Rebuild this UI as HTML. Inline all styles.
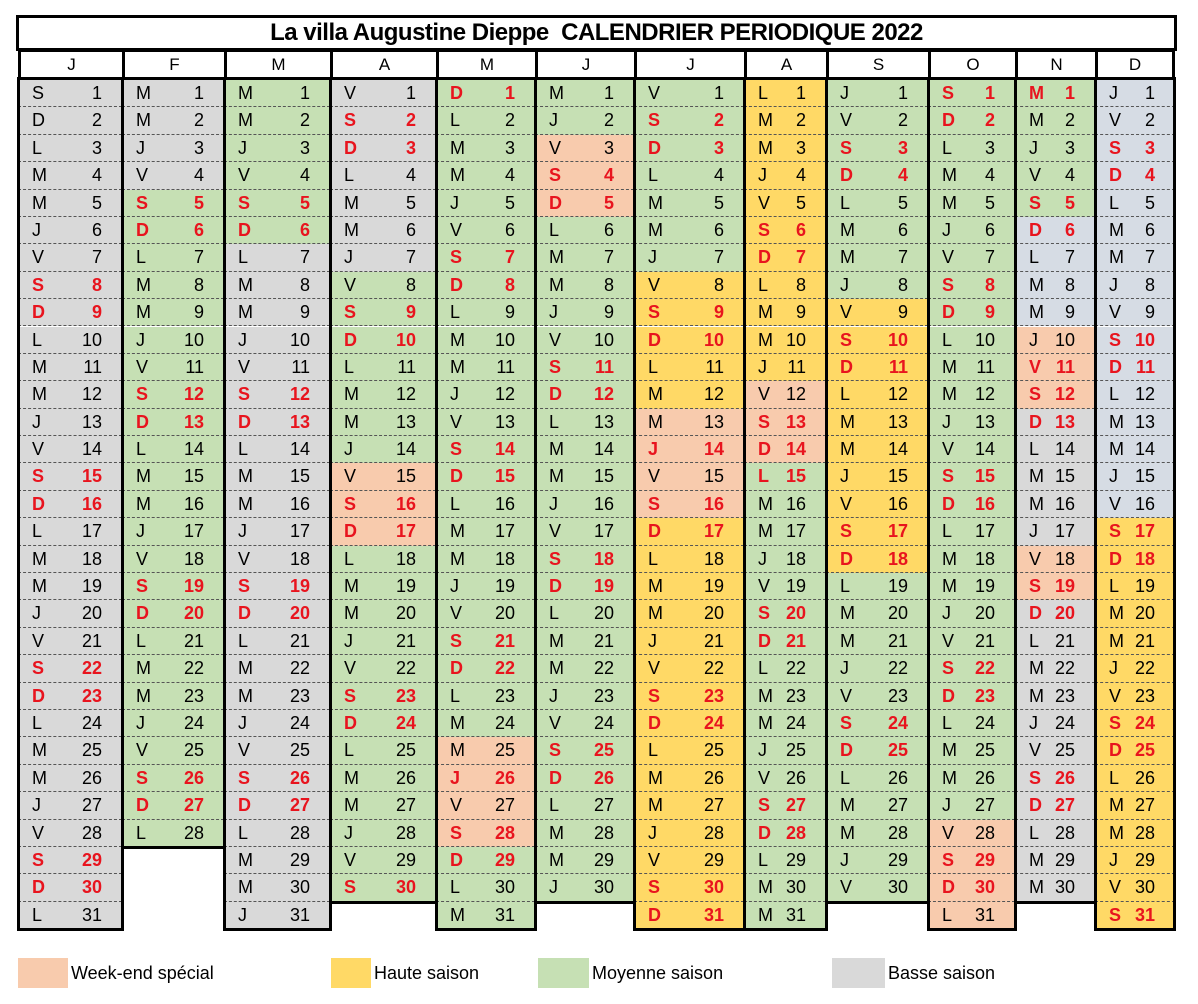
<!DOCTYPE html>
<html><head><meta charset="utf-8">
<style>
body{margin:0;background:#fff;width:1198px;height:1004px;position:relative;overflow:hidden;font-family:"Liberation Sans Narrow","Liberation Sans",sans-serif;}
.abs{position:absolute;box-sizing:border-box;}
#title{left:16px;top:15px;width:1161px;height:36px;border:3px solid #000;text-align:center;font-weight:bold;font-size:24px;line-height:30px;font-family:"Liberation Sans",sans-serif;letter-spacing:-0.5px;}
.hdr{top:49px;height:31px;border:3px solid #000;border-right:none;text-align:center;font-size:17px;line-height:26px;}
.cell{font-size:18px;border-bottom:1px dashed #555;}
.cell span{position:absolute;top:0;}
.red{color:#e8141e;font-weight:bold;}
.frame{border:3px solid #000;pointer-events:none;}
.sw{top:958px;height:30px;}
.lt{top:958px;font-size:18px;line-height:30px;font-family:"Liberation Sans Narrow","Liberation Sans",sans-serif;}
</style></head>
<body>
<div id="title" class="abs">La villa Augustine Dieppe&nbsp; CALENDRIER PERIODIQUE 2022</div>
<div id="cal"></div>
<div class="abs sw" style="left:18px;width:50px;background:#F8CBAD"></div>
<div class="abs lt" style="left:71px">Week-end spécial</div>
<div class="abs sw" style="left:331px;width:40px;background:#FFD966"></div>
<div class="abs lt" style="left:374px">Haute saison</div>
<div class="abs sw" style="left:538px;width:51px;background:#C6E0B4"></div>
<div class="abs lt" style="left:592px">Moyenne saison</div>
<div class="abs sw" style="left:832px;width:53px;background:#D9D9D9"></div>
<div class="abs lt" style="left:888px">Basse saison</div>
<script>
const monthLetters=["J","F","M","A","M","J","J","A","S","O","N","D"];
const monthDays=[31,28,31,30,31,30,31,31,30,31,30,31];
const seasons=[
 [[1,31,"g"]],
 [[1,4,"g"],[5,28,"v"]],
 [[1,6,"v"],[7,31,"g"]],
 [[1,7,"g"],[8,14,"v"],[15,17,"p"],[18,30,"v"]],
 [[1,24,"v"],[25,28,"p"],[29,31,"v"]],
 [[1,2,"v"],[3,5,"p"],[6,30,"v"]],
 [[1,7,"v"],[8,12,"y"],[13,16,"p"],[17,31,"y"]],
 [[1,11,"y"],[12,14,"p"],[15,31,"v"]],
 [[1,8,"v"],[9,18,"y"],[19,30,"v"]],
 [[1,27,"v"],[28,31,"p"]],
 [[1,5,"v"],[6,9,"b"],[10,12,"p"],[13,17,"g"],[18,19,"p"],[20,30,"g"]],
 [[1,16,"b"],[17,31,"y"]]
];
const holidays=["5-26","7-14","8-15","11-1","11-11"];
const blackExceptions=["1-1","1-2"];
const colors={g:"#D9D9D9",v:"#C6E0B4",p:"#F8CBAD",y:"#FFD966",b:"#D6DCE4"};
const dayLetters=["L","M","M","J","V","S","D"];
const colX=[18,122,224,330,436,535,634,744,826,928,1015,1095,1175];
const top0=80,rowH=27.39;
const cal=document.getElementById('cal');
let dow=5;
for(let m=0;m<12;m++){
  const x=colX[m],w=colX[m+1]-colX[m];
  const h=document.createElement('div');
  h.className='abs hdr';
  
  
  h.style.left=x+'px';h.style.width=w+'px';
  if(m==11){h.style.borderRight='3px solid #000';}
  h.textContent=monthLetters[m];
  cal.appendChild(h);
  for(let d=1;d<=monthDays[m];d++){
    let code="g";
    for(const r of seasons[m]) if(d>=r[0]&&d<=r[1]) code=r[2];
    const c=document.createElement('div');
    c.className='abs cell';
    
    
    c.style.left=x+'px';c.style.width=w+'px';
    c.style.top=(top0+(d-1)*rowH)+'px';c.style.height=rowH+'px';
    c.style.lineHeight=(rowH-1)+'px';
    c.style.background=colors[code];
    const key=(m+1)+'-'+d;
    const isRed=(dow>=5||holidays.includes(key))&&!blackExceptions.includes(key);
    if(isRed) c.classList.add('red');
    const a=document.createElement('span');a.textContent=dayLetters[dow];a.style.left='14px';
    const n=document.createElement('span');n.textContent=d;n.style.right='20px';
    c.appendChild(a);c.appendChild(n);
    cal.appendChild(c);
    dow=(dow+1)%7;
  }
  const f=document.createElement('div');
  f.className='abs frame';
  
  
  f.style.left=(x-1)+'px';f.style.width=(w+(m==11?2:3))+'px';
  f.style.top='77px';f.style.height=(top0+monthDays[m]*rowH-77+2)+'px';
  cal.appendChild(f);
}
</script>
</body></html>
